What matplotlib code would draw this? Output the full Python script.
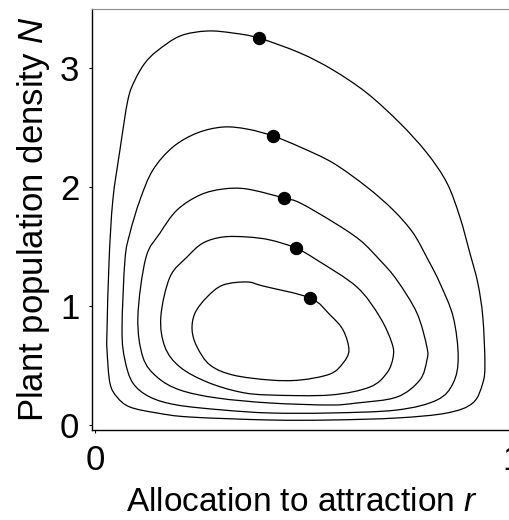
import numpy as np
import matplotlib
matplotlib.use("Agg")
import matplotlib.pyplot as plt
from matplotlib.path import Path
from matplotlib.patches import PathPatch

plt.rcParams['font.family'] = ['Liberation Sans', 'DejaVu Sans']
plt.rcParams['mathtext.fontset'] = 'custom'
plt.rcParams['mathtext.it'] = 'Liberation Sans:italic'
plt.rcParams['mathtext.rm'] = 'Liberation Sans'

# closed orbits (allocation r, density N)
orbit1_r = [0.029, 0.034, 0.043, 0.060, 0.079, 0.096, 0.120, 0.149, 0.204, 0.269, 0.331, 0.393,
            0.492, 0.571, 0.652, 0.731, 0.796, 0.844, 0.875, 0.899, 0.918, 0.930, 0.935, 0.930,
            0.906, 0.844, 0.724, 0.564, 0.420, 0.228, 0.149, 0.084, 0.053, 0.036, 0.029]
orbit1_N = [0.798, 1.387, 1.891, 2.311, 2.731, 2.899, 3.042, 3.143, 3.269, 3.311, 3.294, 3.252,
            3.126, 2.983, 2.790, 2.538, 2.286, 2.034, 1.748, 1.445, 1.193, 0.908, 0.521, 0.353,
            0.185, 0.101, 0.059, 0.042, 0.042, 0.067, 0.101, 0.151, 0.235, 0.353, 0.630]

orbit2_r = [0.065, 0.072, 0.084, 0.108, 0.139, 0.187, 0.245, 0.307, 0.365, 0.427, 0.492, 0.571,
            0.652, 0.715, 0.763, 0.799, 0.827, 0.859, 0.871, 0.859, 0.820, 0.724, 0.564, 0.420,
            0.307, 0.197, 0.132, 0.091, 0.072]
orbit2_N = [0.798, 1.387, 1.613, 1.891, 2.143, 2.336, 2.454, 2.504, 2.487, 2.429, 2.336, 2.202,
            2.000, 1.807, 1.613, 1.387, 1.193, 0.908, 0.571, 0.353, 0.210, 0.126, 0.101, 0.101,
            0.126, 0.168, 0.235, 0.353, 0.546]

orbit3_r = [0.103, 0.122, 0.156, 0.197, 0.252, 0.307, 0.365, 0.453, 0.492, 0.571, 0.635, 0.683,
            0.724, 0.772, 0.796, 0.796, 0.779, 0.724, 0.628, 0.564, 0.420, 0.293, 0.204, 0.149,
            0.115]
orbit3_N = [0.908, 1.403, 1.613, 1.807, 1.933, 1.983, 1.983, 1.908, 1.866, 1.706, 1.555, 1.387,
            1.218, 0.941, 0.655, 0.546, 0.378, 0.235, 0.185, 0.168, 0.185, 0.227, 0.294, 0.403,
            0.571]

orbit4_r = [0.158, 0.180, 0.221, 0.259, 0.307, 0.365, 0.420, 0.482, 0.532, 0.628, 0.683, 0.712,
            0.715, 0.700, 0.659, 0.564, 0.420, 0.348, 0.269, 0.204, 0.168]
orbit4_N = [0.908, 1.244, 1.412, 1.529, 1.580, 1.580, 1.555, 1.487, 1.387, 1.160, 0.908, 0.689,
            0.571, 0.437, 0.319, 0.252, 0.252, 0.277, 0.361, 0.487, 0.655]

orbit5_r = [0.233, 0.240, 0.269, 0.307, 0.365, 0.403, 0.516, 0.564, 0.595, 0.609, 0.595, 0.564,
            0.492, 0.420, 0.331, 0.276, 0.245]
orbit5_N = [0.798, 0.941, 1.076, 1.176, 1.202, 1.168, 1.067, 0.924, 0.798, 0.630, 0.521, 0.429,
            0.378, 0.378, 0.420, 0.504, 0.655]

# marked points on each orbit
dots_r = [0.393, 0.427, 0.453, 0.482, 0.516]
dots_N = [3.252, 2.429, 1.908, 1.487, 1.067]

orbits = [(orbit1_r, orbit1_N), (orbit2_r, orbit2_N), (orbit3_r, orbit3_N),
          (orbit4_r, orbit4_N), (orbit5_r, orbit5_N)]


def closed_curve(r, N):
    # smooth closed path through the read points (cubic bezier, catmull-rom tangents)
    p = np.column_stack([r, N])
    n = len(p)
    verts = [p[0]]
    codes = [Path.MOVETO]
    for i in range(n):
        p0, p1, p2, p3 = p[i - 1], p[i], p[(i + 1) % n], p[(i + 2) % n]
        verts += [p1 + (p2 - p0) / 6, p2 - (p3 - p1) / 6, p2]
        codes += [Path.CURVE4] * 3
    return Path(verts, codes)


fig = plt.figure(figsize=(5.1, 5.2), dpi=100)
ax = fig.add_axes([92/510, 90/520, 420/510, 421/520])

for r, N in orbits:
    ax.add_patch(PathPatch(closed_curve(r, N), facecolor='none', edgecolor='black', lw=0.9))

ax.plot(dots_r, dots_N, 'o', color='black', markersize=8.6, zorder=3)

ax.set_xlim(-0.007, 1.0)
ax.set_ylim(-0.042, 3.496)
ax.set_xticks([0, 1])
ax.set_yticks([0, 1, 2, 3])
ax.tick_params(labelsize=25, length=2, width=0.8, pad=7)
ax.tick_params(axis='x', pad=8)

ax.spines['top'].set_color('0.55')
ax.spines['top'].set_linewidth(0.8)
ax.spines['right'].set_visible(False)
ax.spines['left'].set_linewidth(1.0)
ax.spines['bottom'].set_linewidth(1.0)

ax.set_xlabel('Allocation to attraction $r$', fontsize=24, labelpad=7)
ax.set_ylabel('Plant population density $N$', fontsize=25, labelpad=6)

plt.savefig('out.png', dpi=100)
